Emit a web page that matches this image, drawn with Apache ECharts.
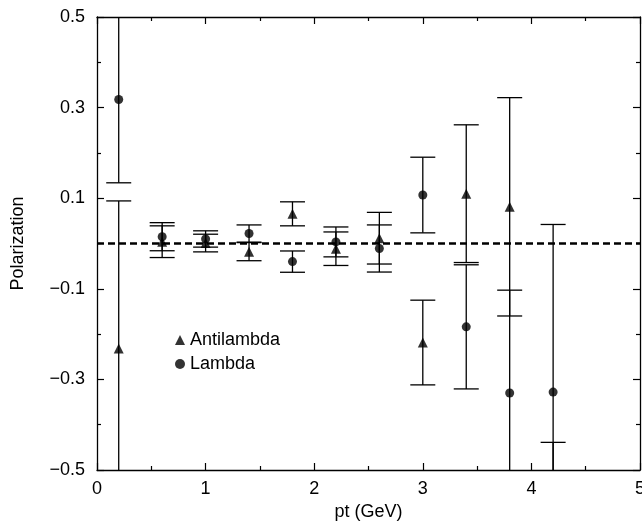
<!DOCTYPE html>
<html>
<head>
<meta charset="utf-8">
<script src="https://cdn.jsdelivr.net/npm/echarts@6/dist/echarts.min.js"></script>
<style>html,body{margin:0;padding:0;background:#fff;}#c{width:642px;height:521px;}</style>
</head>
<body>
<div id="c"></div>
<script>
const pt = [0.2, 0.6, 1.0, 1.4, 1.8, 2.2, 2.6, 3.0, 3.4, 3.8, 4.2];
const lambdaVal = [0.318, 0.015, 0.010, 0.022, -0.040, 0.0035, -0.011, 0.107, -0.184, -0.330, -0.328];
const lambdaErr = [0.184, 0.031, 0.018, 0.019, 0.0235, 0.033, 0.052, 0.0835, 0.137, 0.227, 0.370];
const antiVal = [-0.232, 0.004, 0.001, -0.018, 0.0655, -0.0115, 0.0117, -0.2186, 0.110, 0.081, -0.75];
const antiErr = [0.326, 0.035, 0.0195, 0.020, 0.0265, 0.037, 0.057, 0.0935, 0.152, 0.241, 0.311];
const xTicks = [0, 1, 2, 3, 4, 5];
const yTicks = [-0.5, -0.3, -0.1, 0.1, 0.3, 0.5];
const refLine = [[0, 0], [5, 0]];

const FONT = 'Liberation Sans, Arial, sans-serif';

function errData(vals, errs) {
  return pt.map((x, i) => [x, vals[i], errs[i]]);
}
function ptData(vals) {
  return pt.map((x, i) => [x, vals[i]]);
}
function renderErr(params, api) {
  const x = api.value(0), v = api.value(1), e = api.value(2);
  const top = api.coord([x, v + e]);
  const bot = api.coord([x, v - e]);
  const cs = params.coordSys;
  const yMin = cs.y, yMax = cs.y + cs.height;
  const y1 = Math.max(top[1], yMin), y2 = Math.min(bot[1], yMax);
  if (y1 >= y2) return null;
  const px = top[0];
  const hw = 12.5;
  const style = { stroke: '#000', lineWidth: 1.3 };
  const children = [{ type: 'line', shape: { x1: px, y1: y1, x2: px, y2: y2 }, style: style }];
  if (top[1] >= yMin - 0.5) children.push({ type: 'line', shape: { x1: px - hw, y1: top[1], x2: px + hw, y2: top[1] }, style: style });
  if (bot[1] <= yMax + 0.5) children.push({ type: 'line', shape: { x1: px - hw, y1: bot[1], x2: px + hw, y2: bot[1] }, style: style });
  return { type: 'group', children: children };
}
const fmtY = v => {
  const r = Math.round(v * 10) / 10;
  return yTicks.some(t => Math.abs(t - r) < 1e-6) ? r.toFixed(1).replace('-', '\u2212') : '';
};
const axisCommon = {
  axisLine: { show: true, onZero: false, lineStyle: { color: '#000', width: 1.3 } },
  splitLine: { show: false },
  axisTick: { show: true, inside: true, length: 7, lineStyle: { color: '#000', width: 1.2 } },
  minorTick: { show: true, splitNumber: 2, length: 4, lineStyle: { color: '#000', width: 1.2 } }
};
const chart = echarts.init(document.getElementById('c'), null, { renderer: 'canvas' });
chart.setOption({
  animation: false,
  backgroundColor: '#fff',
  grid: { left: 97, right: 2, top: 17, bottom: 51, containLabel: false, outerBoundsMode: 'none' },
  legend: {
    data: [{ name: 'Antilambda', icon: 'triangle' }, { name: 'Lambda', icon: 'circle' }],
    orient: 'vertical', left: 170, top: 326,
    itemWidth: 10, itemHeight: 10, itemGap: 6,
    textStyle: { fontFamily: FONT, fontSize: 18, color: '#000', padding: [0, 0, 0, 0] }
  },
  xAxis: [
    Object.assign({}, axisCommon, {
      type: 'value', min: 0, max: 5, interval: 1,
      name: 'pt (GeV)', nameLocation: 'middle', nameGap: 33,
      nameTextStyle: { fontFamily: FONT, fontSize: 18, color: '#000' },
      axisLabel: { fontFamily: FONT, fontSize: 18, color: '#000', margin: 10, hideOverlap: false, formatter: v => (xTicks.indexOf(v) >= 0 ? String(v) : '') }
    }),
    Object.assign({}, axisCommon, {
      type: 'value', min: 0, max: 5, interval: 1, position: 'top',
      axisLabel: { show: false }
    })
  ],
  yAxis: [
    Object.assign({}, axisCommon, {
      type: 'value', min: -0.5, max: 0.5, interval: 0.2,
      name: 'Polarization', nameLocation: 'middle', nameGap: 70,
      nameTextStyle: { fontFamily: FONT, fontSize: 18, color: '#000' },
      axisLabel: { fontFamily: FONT, fontSize: 18, color: '#000', margin: 12, formatter: fmtY }
    }),
    Object.assign({}, axisCommon, {
      type: 'value', min: -0.5, max: 0.5, interval: 0.2, position: 'right',
      axisLabel: { show: false }
    })
  ],
  series: [
    { type: 'custom', name: 'errA', renderItem: renderErr, data: errData(antiVal, antiErr), z: 2, silent: true },
    { type: 'custom', name: 'errL', renderItem: renderErr, data: errData(lambdaVal, lambdaErr), z: 2, silent: true },
    { type: 'line', name: 'zero', data: refLine, symbol: 'none', z: 3,
      lineStyle: { color: '#000', width: 2.6, type: [7, 4] } },
    { type: 'scatter', name: 'Antilambda', data: ptData(antiVal), symbol: 'triangle', symbolSize: 10,
      itemStyle: { color: '#000' }, z: 4, clip: true },
    { type: 'scatter', name: 'Lambda', data: ptData(lambdaVal), symbol: 'circle', symbolSize: 9,
      itemStyle: { color: '#000' }, z: 4, clip: true }
  ]
});
</script>
</body>
</html>
